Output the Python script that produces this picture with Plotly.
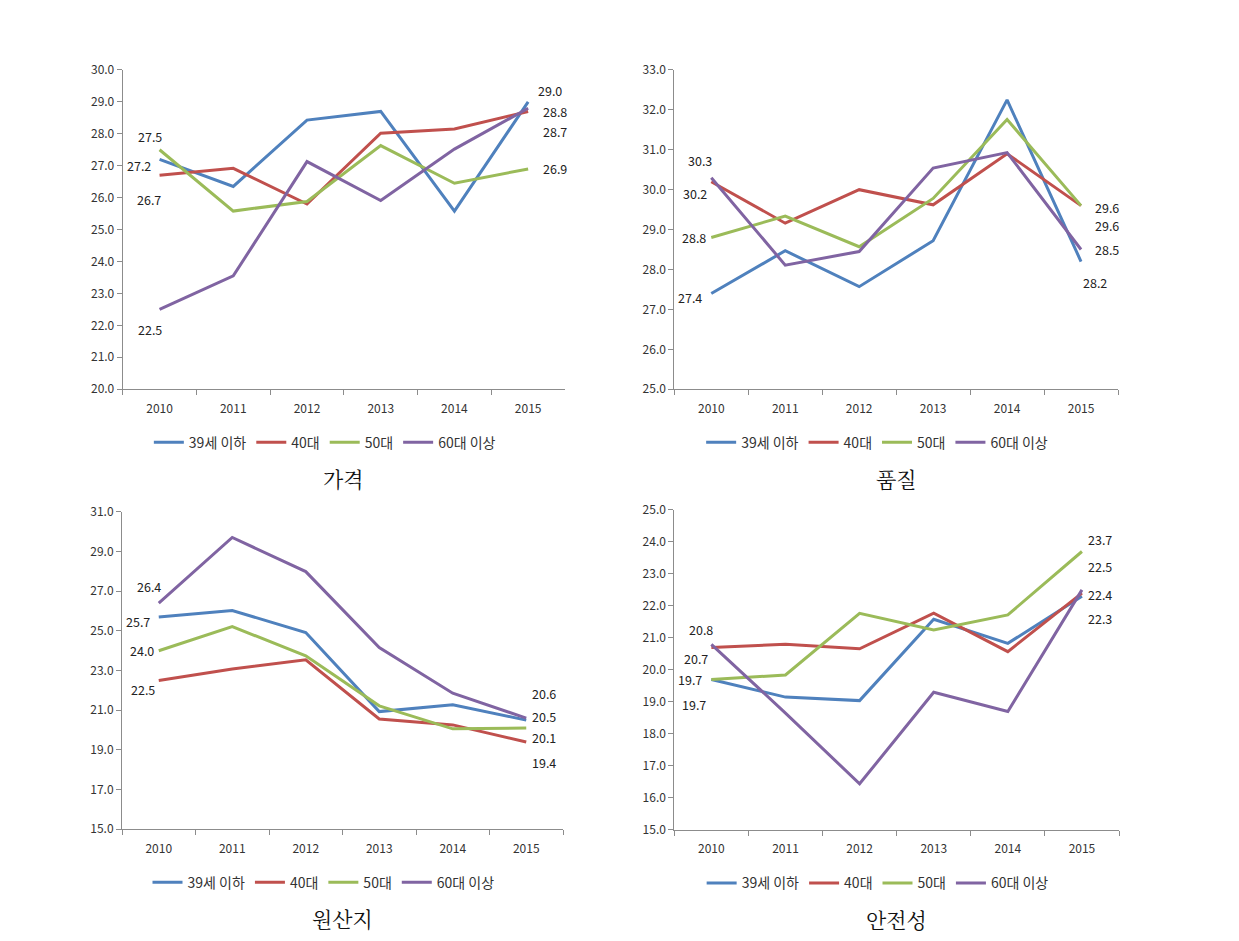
import plotly.graph_objects as go

W, H = 1239, 941
OFF = 8  # page body margin compensation
# empirical vertical calibration of rendered page
YA, YC = 0.982, 10.2

years = ["2010", "2011", "2012", "2013", "2014", "2015"]
series_names = ["39세 이하", "40대", "50대", "60대 이상"]
colors = ["#4F81BD", "#C0504D", "#9BBB59", "#8064A2"]

# 가격
price_39 = [27.2, 26.35, 28.43, 28.7, 25.58, 29.0]
price_40 = [26.7, 26.92, 25.8, 28.02, 28.15, 28.7]
price_50 = [27.5, 25.58, 25.88, 27.63, 26.45, 26.9]
price_60 = [22.5, 23.55, 27.13, 25.91, 27.52, 28.8]

# 품질
quality_39 = [27.4, 28.47, 27.57, 28.72, 32.25, 28.2]
quality_40 = [30.2, 29.16, 30.0, 29.62, 30.9, 29.6]
quality_50 = [28.8, 29.34, 28.57, 29.78, 31.76, 29.6]
quality_60 = [30.3, 28.11, 28.45, 30.54, 30.93, 28.5]

# 원산지
origin_39 = [25.7, 26.03, 24.92, 20.93, 21.27, 20.5]
origin_40 = [22.5, 23.08, 23.54, 20.56, 20.26, 19.4]
origin_50 = [24.0, 25.22, 23.74, 21.22, 20.06, 20.1]
origin_60 = [26.4, 29.71, 27.99, 24.16, 21.86, 20.6]

# 안전성
safety_39 = [19.7, 19.15, 19.04, 21.58, 20.83, 22.3]
safety_40 = [20.7, 20.8, 20.66, 21.77, 20.57, 22.4]
safety_50 = [19.7, 19.84, 21.77, 21.25, 21.72, 23.7]
safety_60 = [20.8, 18.65, 16.44, 19.3, 18.7, 22.5]

panel_titles = ["가격", "품질", "원산지", "안전성"]
panel_data = [
    [price_39, price_40, price_50, price_60],
    [quality_39, quality_40, quality_50, quality_60],
    [origin_39, origin_40, origin_50, origin_60],
    [safety_39, safety_40, safety_50, safety_60],
]
y_ranges = [(20, 30, 1), (25, 33, 1), (15, 31, 2), (15, 25, 1)]

# layout (pixel boxes in screenshot coords: left, right, top, bottom)
boxes = [
    (122.7, 565.0, 70.0, 389.3),
    (674.3, 1118.0, 70.0, 389.3),
    (122.0, 563.0, 512.0, 829.3),
    (674.3, 1119.0, 510.0, 830.0),
]
# label offsets (dx, dy in px; dy positive = down) for first and last points, per series
first_off = [
    [(-21, 6), (-11, 24), (-10, -13), (-10, 20)],
    [(-21, 4), (-16, 12), (-17, 0), (-11, -17)],
    [(-21, 4), (-16, 9), (-17, 0), (-10, -17)],
    [(-17, 25), (-15, 11), (-21, 0), (-10, -15)],
]
last_off = [
    [(22, -11), (27, 20), (27, 0), (27, 3)],
    [(14, 21), (26, 2), (26, 20), (26, 0)],
    [(18, -4), (18, 21), (18, 9), (18, -25)],
    [(18, 22), (18, 1), (18, -12), (18, -23)],
]

FONT = "Noto Sans CJK KR, Malgun Gothic, sans-serif"
fig = go.Figure()
annotations = []
layout_extra = {}

def px_x(v):
    return (v - OFF) / W

def px_y(v):
    v_in = (v - YC) / YA
    return 1 - (v_in - OFF) / H

for p in range(4):
    l, r, t, b = boxes[p]
    xa = "xaxis" if p == 0 else f"xaxis{p+1}"
    ya = "yaxis" if p == 0 else f"yaxis{p+1}"
    xref = "x" if p == 0 else f"x{p+1}"
    yref = "y" if p == 0 else f"y{p+1}"
    lg = "legend" if p == 0 else f"legend{p+1}"
    for s in range(4):
        vals = panel_data[p][s]
        fig.add_trace(go.Scatter(
            x=years, y=vals, mode="lines", name=series_names[s],
            line=dict(color=colors[s], width=3),
            xaxis=xref, yaxis=yref, legend=lg, showlegend=True,
        ))
        for idx, off in ((0, first_off[p][s]), (len(years) - 1, last_off[p][s])):
            annotations.append(dict(
                x=idx, y=vals[idx], xref=xref, yref=yref,
                text=f"{vals[idx]:.1f}", showarrow=False,
                xshift=off[0], yshift=-off[1],
                font=dict(size=12.5, color="#222222", family=FONT),
            ))
    y0, y1, dt = y_ranges[p]
    layout_extra[xa] = dict(
        domain=[px_x(l), px_x(r)], anchor=yref, type="category",
        range=[-0.5, 5.5], showline=True, linecolor="#8c8c8c", linewidth=1,
        ticks="outside", tickson="boundaries", ticklen=5, tickcolor="#8c8c8c",
        showgrid=False, zeroline=False, ticklabelstandoff=8,
        tickfont=dict(size=12, color="#333333", family=FONT),
    )
    layout_extra[ya] = dict(
        domain=[px_y(b), px_y(t)], anchor=xref,
        range=[y0, y1], dtick=dt, tick0=y0, tickformat=".1f",
        showline=True, linecolor="#8c8c8c", linewidth=1,
        ticks="outside", ticklen=5, tickcolor="#8c8c8c",
        showgrid=False, zeroline=False,
        tickfont=dict(size=12, color="#333333", family=FONT),
    )
    layout_extra[lg] = dict(
        orientation="h", x=px_x((l + r) / 2 - 19), xanchor="center",
        y=px_y(b + 53.5), yanchor="middle",
        font=dict(size=14, color="#333333", family=FONT),
        bgcolor="rgba(0,0,0,0)", itemwidth=30, tracegroupgap=0,
    )
    annotations.append(dict(
        x=px_x((l + r) / 2), y=px_y(b + 89), xref="paper", yref="paper",
        text=panel_titles[p], showarrow=False, xanchor="center", yanchor="middle",
        font=dict(size=21, color="#111111", family="Noto Serif CJK KR, Batang, Noto Sans CJK KR, serif"),
    ))

fig.update_layout(
    width=W, height=H, margin=dict(l=0, r=0, t=0, b=0),
    paper_bgcolor="white", plot_bgcolor="white",
    annotations=annotations, **layout_extra,
)

fig.write_html("out.html")
